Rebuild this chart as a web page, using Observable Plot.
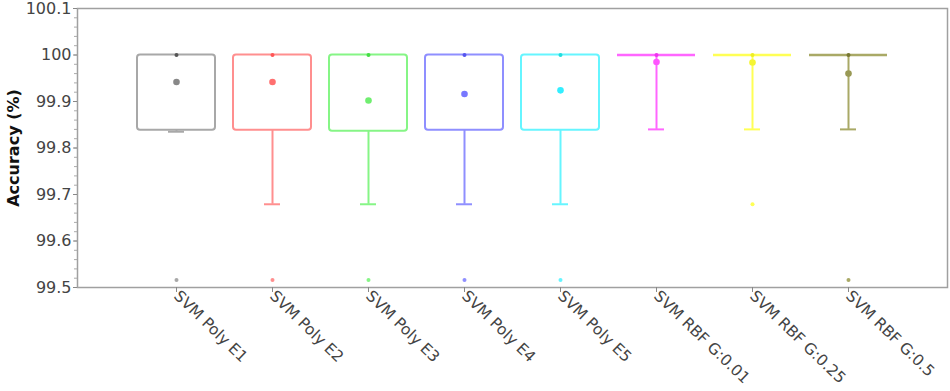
<!DOCTYPE html>
<html>
<head>
<meta charset="utf-8">
<script src="https://cdn.jsdelivr.net/npm/d3@7"></script>
<script src="https://cdn.jsdelivr.net/npm/@observablehq/plot@0.6"></script>
<style>
  html, body { margin: 0; padding: 0; background: #fff; }
  #chart svg { display: block; }
  g[aria-label="y-axis label"] text { font-weight: bold; fill: #111; font-size: 16px; }
</style>
</head>
<body>
<div id="chart"></div>
<script>
const categories = ["SVM Poly E1", "SVM Poly E2", "SVM Poly E3", "SVM Poly E4", "SVM Poly E5", "SVM RBF G:0.01", "SVM RBF G:0.25", "SVM RBF G:0.5"];
const q1Values = [99.838, 99.838, 99.836, 99.838, 99.838, 100, 100, 100];
const q3Values = [100, 100, 100, 100, 100, 100, 100, 100];
const medianValues = [100, 100, 100, 100, 100, 100, 100, 100];
const meanValues = [99.942, 99.942, 99.902, 99.916, 99.924, 99.985, 99.984, 99.960];
const whiskerLow = [99.835, 99.679, 99.679, 99.679, 99.679, 99.840, 99.840, 99.840];
const whiskerHigh = [100, 100, 100, 100, 100, 100, 100, 100];
const outlierCategories = ["SVM Poly E1", "SVM Poly E2", "SVM Poly E3", "SVM Poly E4", "SVM Poly E5", "SVM RBF G:0.25", "SVM RBF G:0.5"];
const outlierValues = [99.516, 99.516, 99.516, 99.516, 99.516, 99.679, 99.516];
const boxColors = ["#a8a8a8", "#ff8f8f", "#86f586", "#8f8fff", "#66f5ff", "#ff66ff", "#ffff55", "#a9a966"];
const meanColors = ["#888888", "#ff7070", "#70ee70", "#7878ff", "#33eeff", "#ff55ff", "#f5f533", "#999955"];
const medianColors = ["#555555", "#ff5555", "#44dd44", "#5555ee", "#22dddd", "#ee33ee", "#eeee22", "#777733"];
const yTickValues = [99.5, 99.6, 99.7, 99.8, 99.9, 100, 100.1];
const yTickLabels = ["99.5", "99.6", "99.7", "99.8", "99.9", "100", "100.1"];

const rows = categories.map((c, i) => ({
  cat: c, q1: q1Values[i], q3: q3Values[i], median: medianValues[i], mean: meanValues[i],
  lo: whiskerLow[i], hi: whiskerHigh[i], color: boxColors[i], meanColor: meanColors[i], medColor: medianColors[i]
}));
const outliers = outlierCategories.map((c, i) => ({cat: c, v: outlierValues[i], color: boxColors[categories.indexOf(c)]}));
const labelOf = new Map(yTickValues.map((v, i) => [v.toFixed(1), yTickLabels[i]]));
const flatRows = rows.filter(r => r.q1 === r.q3);
const boxRows = rows.filter(r => r.q1 !== r.q3);

const chart = Plot.plot({
  width: 950,
  height: 391,
  marginLeft: 77,
  marginRight: 3,
  marginTop: 8,
  marginBottom: 104,
  style: {fontFamily: "DejaVu Sans, Verdana, sans-serif", fontSize: "16px", color: "#333", background: "#fff"},
  x: {type: "band", domain: categories, paddingInner: 0.183, paddingOuter: 0.5915},
  y: {domain: [99.5, 100.1]},
  marks: [
    Plot.frame({stroke: "#a0a0a0", strokeWidth: 1.5}),
    // minor y ticks
    Plot.axisY(d3.ticks(99.5, 100.1, 30), {tickSize: 3, text: null, stroke: "#aaa", strokeWidth: 1}),
    Plot.axisY(yTickValues, {
      tickSize: 4, tickPadding: 2, stroke: "#888", fill: "#444", fontSize: 16,
      tickFormat: d => labelOf.get((+d).toFixed(1)),
      label: "Accuracy (%)", labelAnchor: "center", labelArrow: "none", labelOffset: 70
    }),
    Plot.axisX({
      tickSize: 5, tickPadding: 1, tickRotate: 44, stroke: "#888", fill: "#444", fontSize: 15.5, label: null
    }),
    // whiskers
    Plot.ruleX(rows, {x: "cat", y1: "lo", y2: "q1", stroke: "color", strokeWidth: 2}),
    Plot.tickY(rows, {x: "cat", y: "lo", stroke: "color", strokeWidth: 2, insetLeft: 31, insetRight: 31}),
    // boxes
    Plot.barY(boxRows, {x: "cat", y1: "q1", y2: "q3", fill: "white", fillOpacity: 0, stroke: "color", strokeWidth: 2, rx: 3}),
    Plot.tickY(flatRows, {x: "cat", y: "q3", stroke: "color", strokeWidth: 2.5}),
    // median markers
    Plot.dot(rows, {x: "cat", y: "median", r: 2, fill: "medColor", stroke: "none"}),
    // means
    Plot.dot(rows, {x: "cat", y: "mean", r: 3.3, fill: "meanColor", stroke: "none"}),
    // outliers
    Plot.dot(outliers, {x: "cat", y: "v", r: 2, fill: "color", stroke: "none"})
  ]
});
document.getElementById("chart").appendChild(chart);
</script>
</body>
</html>
